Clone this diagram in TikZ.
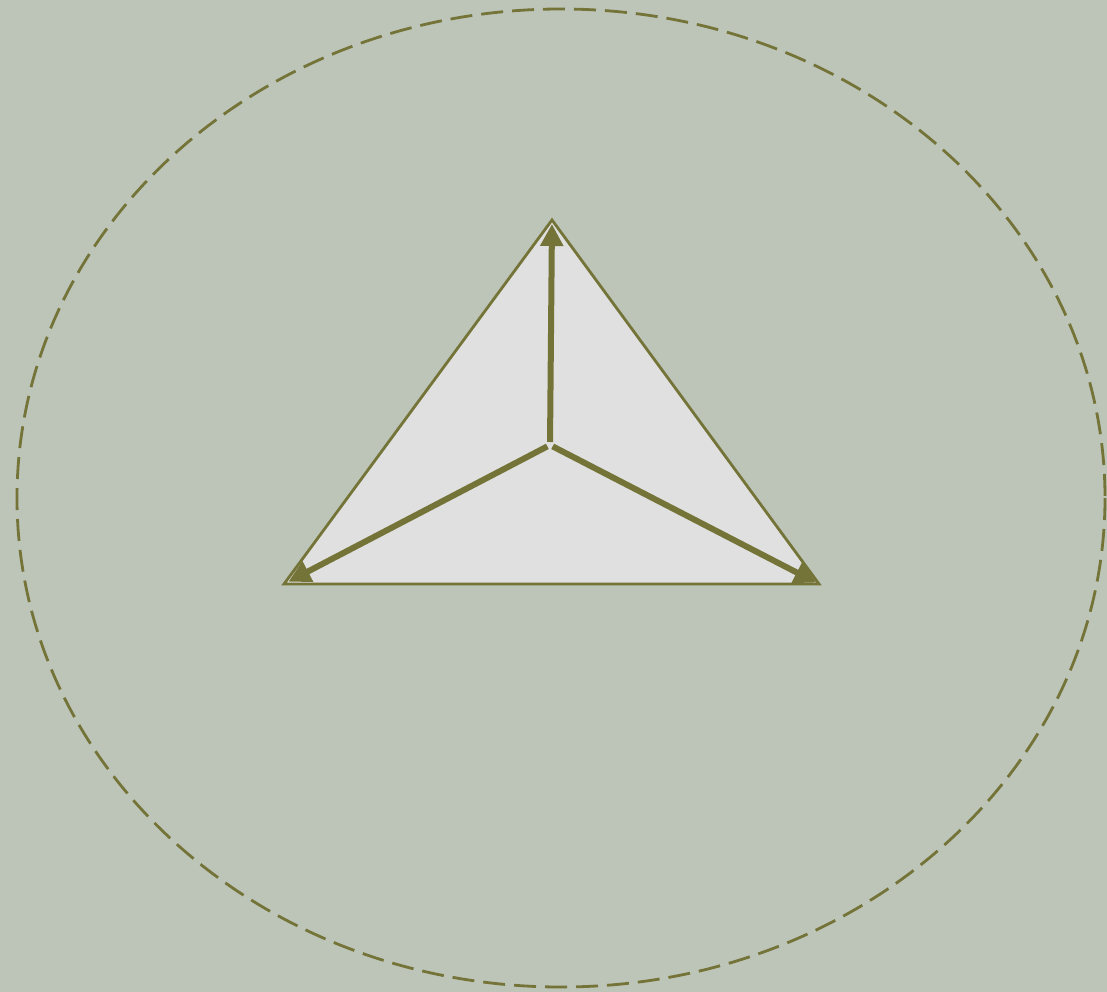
\documentclass[tikz,border=0pt]{standalone}
\usepackage{tikz}
\usetikzlibrary{arrows.meta,calc}
\definecolor{bgsage}{RGB}{189,197,185}
\definecolor{olivedrab}{RGB}{116,116,56}
\definecolor{facegray}{RGB}{224,224,224}
\tikzset{
  orbit/.style={draw=olivedrab,line width=2.8pt,dash pattern=on 22pt off 9pt},
  face/.style={draw=olivedrab,fill=facegray,line width=2.8pt,line join=miter},
  axis/.style={draw=olivedrab,line width=6pt,shorten <=3pt,
    -{Triangle[length=22pt,width=22pt]}}
}
\begin{document}
\begin{tikzpicture}[x=1pt,y=-1pt]
                \fill[bgsage] (0,0) rectangle (1107,992);
                \useasboundingbox (0,0) rectangle (1107,992);
                \coordinate (mid) at (550,445);
                \coordinate (apex) at (552,220);
                \coordinate (left) at (284,584);
                \coordinate (right) at (819,584);
                \draw[orbit] (561,498) ellipse [x radius=544, y radius=489];
                \path[face] (apex) -- (right) -- (left) -- cycle;
                \draw[axis] (mid) -- ($(apex)!4pt!(mid)$);
                \draw[axis] (mid) -- ($(left)!5pt!(mid)$);
                \draw[axis] (mid) -- ($(right)!3pt!(mid)$);
            \end{tikzpicture}
\end{document}
